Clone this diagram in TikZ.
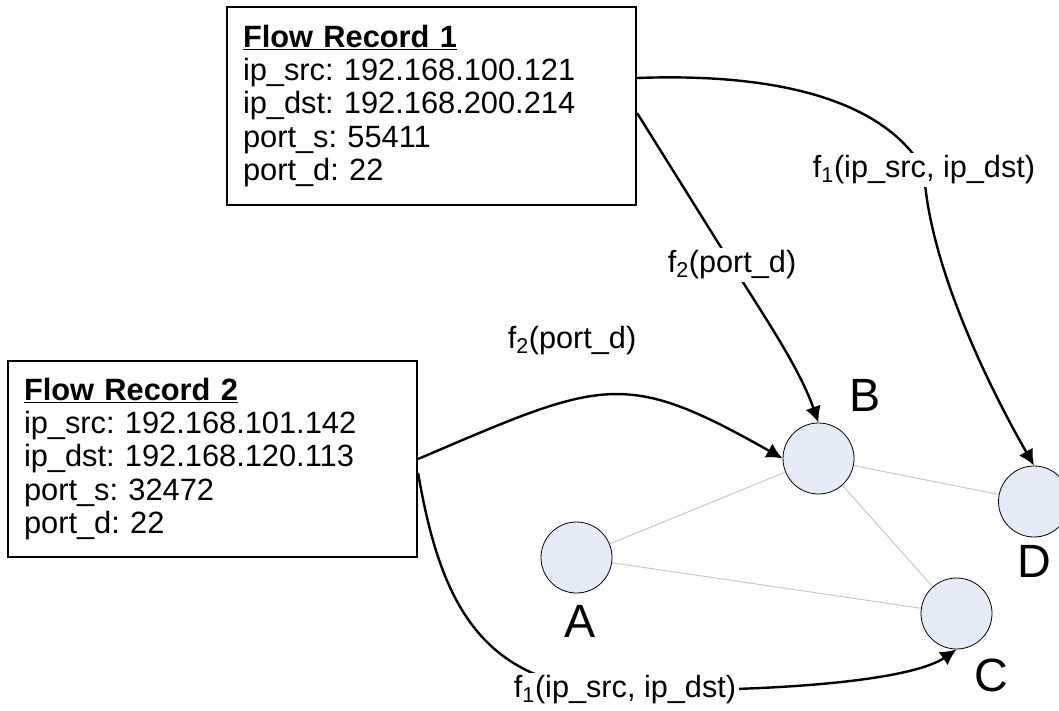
\documentclass[tikz,border=0pt]{standalone}
\usepackage{fontspec}
\setmainfont{Liberation Sans}
\usetikzlibrary{arrows.meta,backgrounds}
\definecolor{hostfill}{RGB}{230,236,247}
\definecolor{linkgray}{RGB}{200,200,200}
\frenchspacing

\begin{document}
\begin{tikzpicture}[x=0.75pt,y=-0.75pt,
    recbox/.style={draw,line width=1.6pt,align=left,text width=282.75pt,
      inner xsep=12pt,inner ysep=0pt,minimum width=306.75pt,
      font=\fontsize{23.1}{25}\selectfont},
    host/.style={circle,draw,line width=0.6pt,fill=hostfill,
      minimum size=53.25pt,inner sep=0pt},
    hostlbl/.style={inner sep=0pt,font=\fontsize{35}{40}\selectfont},
    fnlbl/.style={fill=white,inner sep=2pt,font=\fontsize{23}{26}\selectfont},
    flow/.style={line width=1.8pt},
    link/.style={draw=linkgray,line width=0.75pt},
    tip/.style={-{Latex[length=12pt,width=12pt]}}]

  \useasboundingbox (0,0) rectangle (1059,710);
  \clip (0,0) rectangle (1059,710);

  % flow records
  \node[recbox,minimum height=148.5pt] (rec1) at (431.5,106)
    {\underline{\textbf{Flow Record 1}}\\
     ip\_src: 192.168.100.121\\
     ip\_dst: 192.168.200.214\\
     port\_s: 55411\\
     port\_d: 22};
  \node[recbox,minimum height=147pt] (rec2) at (212.5,459)
    {\underline{\textbf{Flow Record 2}}\\
     ip\_src: 192.168.101.142\\
     ip\_dst: 192.168.120.113\\
     port\_s: 32472\\
     port\_d: 22};

  % hosts
  \begin{scope}[every node/.style={host}]
    \node (A) at (576.5,557.5) {};
    \node (B) at (818.5,458.5) {};
    \node (C) at (956.5,613.5) {};
    \node (D) at (1034,501.5)  {};
  \end{scope}

  \begin{scope}[every node/.style={hostlbl}]
    \node (lblA) at (580,621)  {A};
    \node (lblB) at (865,395)  {B};
    \node (lblC) at (991,675)  {C};
    \node (lblD) at (1034,561) {D};
  \end{scope}

  % hash labels
  \begin{scope}[every node/.style={fnlbl}]
    \node (f1top) at (924,170)  {f\textsubscript{1}(ip\_src, ip\_dst)};
    \node (f2top) at (732,265)  {f\textsubscript{2}(port\_d)};
    \node (f2mid) at (572,341)  {f\textsubscript{2}(port\_d)};
    \node (f1bot) at (625,690)  {f\textsubscript{1}(ip\_src, ip\_dst)};
  \end{scope}

  \begin{scope}[on background layer]
    \path[link] (A) -- (B);
    \path[link] (A) -- (C);
    \path[link] (B) -- (C);
    \path[link] (B) -- (D);

    \draw[flow,tip] ([yshift=21pt]rec1.east) .. controls (800,72) and (890,110) .. (f1top.center)
      .. controls (928,260) and (985,380) .. (D.north);
    \draw[flow,tip] ([yshift=-5.25pt]rec1.east) -- (f2top.center)
      .. controls (770,325) and (800,370) .. (B.north);
    \draw[flow,tip] (rec2.east) .. controls (603,380) and (623,368) .. (B.west);
    \draw[flow,tip] ([yshift=-10.5pt]rec2.east) .. controls (440,600) and (480,690) .. (f1bot.center)
      .. controls (800,692) and (915,678) .. (C.south);
  \end{scope}

\end{tikzpicture}
\end{document}
